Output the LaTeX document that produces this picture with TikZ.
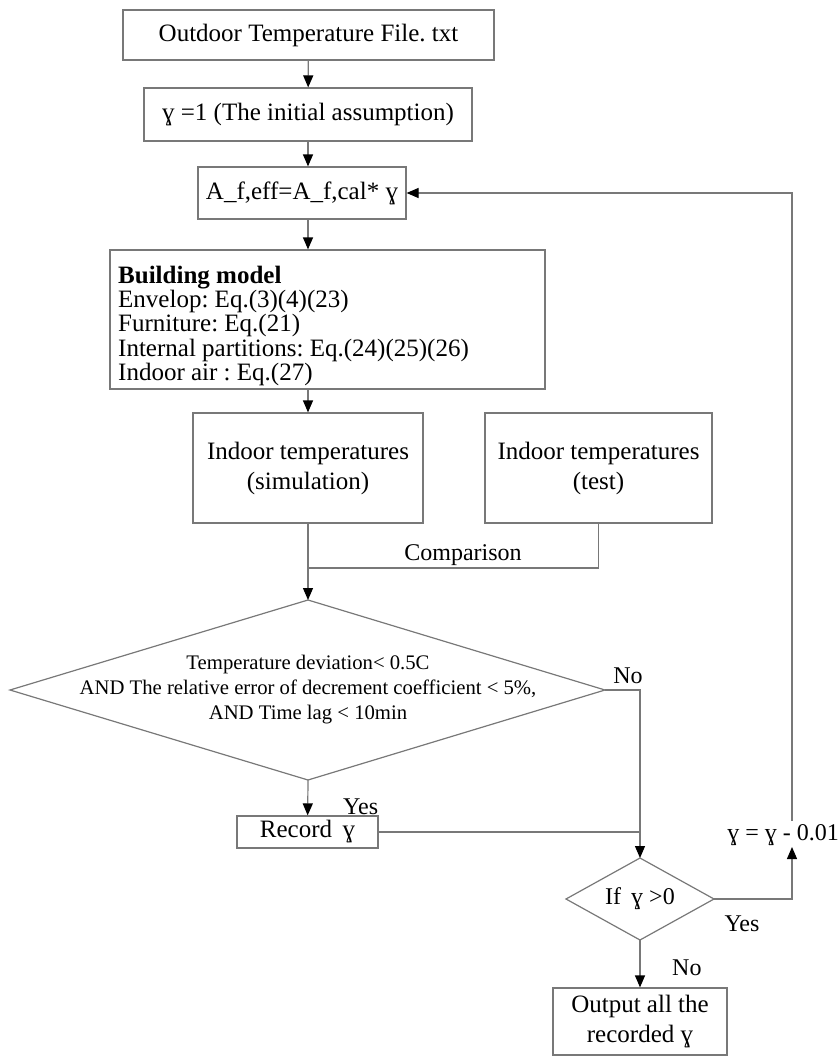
\documentclass[tikz,border=0pt]{standalone}
\usepackage{fontspec}
\setmainfont{Liberation Serif}
\usetikzlibrary{arrows.meta}
\definecolor{linegray}{RGB}{120,120,120}
\frenchspacing
\newcommand\mytightlines{\lineskiplimit=-50pt\relax}
\begin{document}
\begin{tikzpicture}[x=1pt,y=-1pt,
  box/.style={draw=linegray, line width=1.2pt, inner sep=0pt, align=center,
    font=\fontsize{25}{30}\selectfont},
  conn/.style={draw=linegray, line width=1.2pt},
  arr/.style={conn, -{Triangle[width=10pt,length=12pt,color=black]}},
  lbl/.style={inner sep=0pt, font=\fontsize{24}{28}\selectfont},
  dtext/.style={inner sep=0pt, align=center, font=\fontsize{20.7}{25}\selectfont}]
\useasboundingbox (0,0) rectangle (840,1063);
% boxes
\node[box, minimum width=371pt, minimum height=50pt] (b1) at (308.5,35) {Outdoor Temperature File. txt};
\node[box, minimum width=328pt, minimum height=53pt] (b2) at (308,114.5) {ɣ =1 (The initial assumption)};
\node[box, minimum width=208pt, minimum height=52pt] (b3) at (302,193) {A\_f,eff=A\_f,cal* ɣ};
\node[box, minimum width=435pt, minimum height=139pt] (b4) at (327.5,319.5) {};
\node[inner sep=0pt, anchor=north west, align=left,
  font={\fontsize{25}{24.2}\selectfont\mytightlines}] (b4txt) at (118,266)
  {\textbf{Building model}\\Envelop: Eq.(3)(4)(23)\\Furniture: Eq.(21)\\Internal partitions: Eq.(24)(25)(26)\\Indoor air : Eq.(27)};
\node[box, minimum width=230pt, minimum height=110pt] (b5) at (308,468) {Indoor temperatures\\(simulation)};
\node[box, minimum width=227pt, minimum height=110pt] (b6) at (598.5,468) {Indoor temperatures\\(test)};
% diamond 1
\coordinate (d1t) at (308,600);
\coordinate (d1l) at (10,690);
\coordinate (d1r) at (605,690);
\coordinate (d1b) at (308,780);
\draw[conn] (d1t) -- (d1r) -- (d1b) -- (d1l) -- cycle;
\node[dtext] (d1) at (308,690) {Temperature deviation< 0.5C\\AND The relative error of decrement coefficient < 5\%,\\AND Time lag < 10min};
\node[box, minimum width=141pt, minimum height=32pt] (rec) at (307.5,832) {Record \,ɣ};
% diamond 2
\coordinate (d2t) at (640,858);
\coordinate (d2l) at (566,899);
\coordinate (d2r) at (714,899);
\coordinate (d2b) at (640,940);
\draw[conn] (d2t) -- (d2r) -- (d2b) -- (d2l) -- cycle;
\node[lbl] (d2) at (640,899) {If \,ɣ >0};
\node[box, minimum width=174pt, minimum height=67pt] (out) at (640,1021.5) {Output all the\\recorded ɣ};
\node[lbl, anchor=east] (upd) at (839,835) {ɣ = ɣ - 0.01};
% connector helpers
\coordinate (cmp) at (308,568);
\coordinate (jn) at (640,832);
\coordinate (nor) at (640,690);
\coordinate (yr) at (792,899);
\coordinate (ytop) at (792,847);
\coordinate (ustart) at (792,821);
\coordinate (uend) at (792,193);
% connectors
\draw[arr] (b1) -- (b2);
\draw[arr] (b2) -- (b3.north -| b2);
\draw[arr] (b3.south -| b2) -- (b4.north -| b2);
\draw[arr] (b4.south -| b5) -- (b5);
\draw[conn] (b5) -- (cmp);
\draw[conn] (b6) |- (cmp);
\node[lbl, anchor=south] (cmplbl) at (463,566) {Comparison};
\draw[arr] (cmp) -- (d1t);
\draw[arr] (d1b) -- (rec);
\node[lbl, anchor=south west] (yes1) at (343,815) {Yes};
\draw[conn] (d1r) -- (nor) -- (jn);
\node[lbl, anchor=south] (no1) at (628,684) {No};
\draw[conn] (rec) -- (jn);
\draw[arr] (jn) -- (d2t);
\draw[arr] (d2r) -- (yr) -- (ytop);
\node[lbl, anchor=north] (yes2) at (742,916) {Yes};
\draw[arr] (ustart) -- (uend) -- (b3);
\draw[arr] (d2b) -- (out);
\node[lbl, anchor=west] (no2) at (672,968) {No};
\end{tikzpicture}
\end{document}
